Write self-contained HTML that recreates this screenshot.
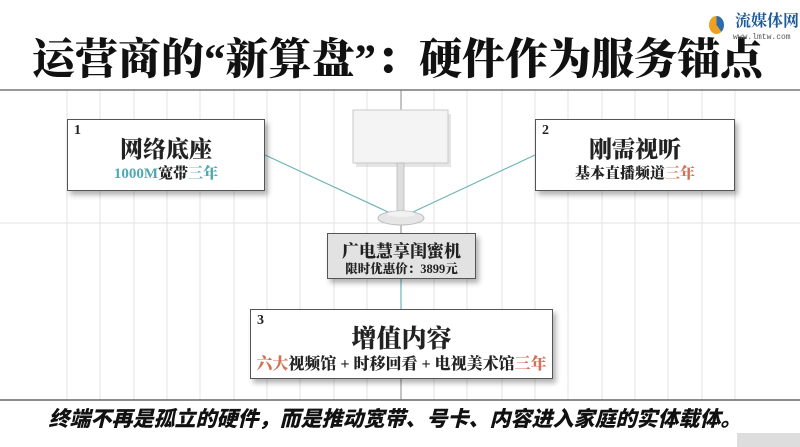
<!DOCTYPE html>
<html><head><meta charset="utf-8"><style>
*{margin:0;padding:0;box-sizing:border-box}
body{width:800px;height:447px;background:#fff;position:relative;overflow:hidden;font-family:"Liberation Serif","Noto Serif CJK SC",serif}
.abs{position:absolute}
.box{position:absolute;background:#fff;border:1.5px solid #555;box-shadow:3px 4px 5px rgba(0,0,0,0.3);text-align:center;font-weight:bold;color:#222}
.num{position:absolute;left:6px;top:3px;font-size:14px;font-weight:bold;font-family:"Liberation Serif",serif}
.t{position:absolute;left:0;right:0;font-weight:900}
.teal{color:#4fa9b2}.red{color:#d27258}
</style></head><body>
<svg class="abs" style="left:0;top:0" width="800" height="447">
<g stroke="#e3e3e3" stroke-width="1">
<line x1="67" y1="90" x2="67" y2="400"/><line x1="100" y1="90" x2="100" y2="400"/><line x1="134" y1="90" x2="134" y2="400"/><line x1="167" y1="90" x2="167" y2="400"/><line x1="200" y1="90" x2="200" y2="400"/><line x1="234" y1="90" x2="234" y2="400"/><line x1="267" y1="90" x2="267" y2="400"/><line x1="300" y1="90" x2="300" y2="400"/><line x1="334" y1="90" x2="334" y2="400"/><line x1="367" y1="90" x2="367" y2="400"/><line x1="434" y1="90" x2="434" y2="400"/><line x1="467" y1="90" x2="467" y2="400"/><line x1="502" y1="90" x2="502" y2="400"/><line x1="535" y1="90" x2="535" y2="400"/><line x1="568" y1="90" x2="568" y2="400"/><line x1="602" y1="90" x2="602" y2="400"/><line x1="635" y1="90" x2="635" y2="400"/><line x1="668" y1="90" x2="668" y2="400"/><line x1="702" y1="90" x2="702" y2="400"/><line x1="735" y1="90" x2="735" y2="400"/>
<line x1="0" y1="223" x2="800" y2="223"/>
</g>
<line x1="401" y1="90" x2="401" y2="400" stroke="#888" stroke-width="1"/>
<line x1="0" y1="90" x2="800" y2="90" stroke="#777" stroke-width="1.5"/>
<line x1="0" y1="400" x2="800" y2="400" stroke="#666" stroke-width="1.5"/>
<line x1="265" y1="155" x2="388" y2="212" stroke="#6db5b8" stroke-width="1.2"/>
<line x1="535" y1="155" x2="413" y2="212" stroke="#6db5b8" stroke-width="1.2"/>
<line x1="401" y1="279" x2="401" y2="309" stroke="#6db5b8" stroke-width="1.2"/>
<rect x="356" y="114" width="95" height="53" fill="#ccc" opacity="0.5"/>
<rect x="353" y="110" width="95" height="53" fill="#f4f4f4" stroke="#c8c8c8" stroke-width="1"/>
<rect x="397" y="163" width="7" height="50" fill="#ddd" stroke="#bbb" stroke-width="0.8"/>
<ellipse cx="401" cy="218" rx="23" ry="7" fill="#e6e6e6" stroke="#bbb"/>
<ellipse cx="401" cy="214" rx="14" ry="3" fill="#f2f2f2"/>
<rect x="737" y="433" width="63" height="14" fill="#ddd"/>
</svg>
<div class="abs" style="left:0;width:795px;top:31px;text-align:center;font-size:43px;font-weight:900;line-height:60px;color:#111;font-family:'Liberation Serif','Noto Serif CJK SC',serif">运营商的“新算盘”：硬件作为服务锚点</div>
<div class="abs" style="left:709px;top:16px;width:15px;height:18px;border-radius:50%;background:conic-gradient(#2b6cb0 0 40%,#f0a020 40% 100%)"></div>
<div class="abs" style="left:735px;top:12px;font-size:16px;font-weight:bold;color:#1d5a9a;line-height:20px">流媒体网</div>
<div class="abs" style="left:733px;top:33px;font-size:8px;color:#555;font-family:'Liberation Mono',monospace">www.lmtw.com</div>

<div class="box" style="left:67px;top:119px;width:198px;height:72px"><span class="num">1</span>
<div class="t" style="top:11px;font-size:23px">网络底座</div>
<div class="t" style="top:42px;font-size:15px"><span class="teal">1000M</span>宽带<span class="teal">三年</span></div></div>
<div class="box" style="left:535px;top:119px;width:200px;height:72px"><span class="num">2</span>
<div class="t" style="top:11px;font-size:23px">刚需视听</div>
<div class="t" style="top:42px;font-size:15px">基本直播频道<span class="red">三年</span></div></div>
<div class="box" style="left:327px;top:233px;width:149px;height:46px;background:#e2e2e2"><div class="t" style="top:3px;font-size:17px">广电慧享闺蜜机</div>
<div class="t" style="top:25px;font-size:12.5px">限时优惠价：3899元</div></div>
<div class="box" style="left:250px;top:309px;width:303px;height:70px"><span class="num">3</span>
<div class="t" style="top:9px;font-size:25px">增值内容</div>
<div class="t" style="top:41px;font-size:16px"><span class="red">六大</span>视频馆 + 时移回看 + 电视美术馆<span class="red">三年</span></div></div>

<div class="abs" style="left:0;width:790px;top:405px;text-align:center;font-size:21px;font-weight:900;font-style:italic;color:#111;line-height:30px;font-family:'Liberation Sans','Noto Sans CJK SC',sans-serif">终端不再是孤立的硬件，而是推动宽带、号卡、内容进入家庭的实体载体。</div>
</body></html>
